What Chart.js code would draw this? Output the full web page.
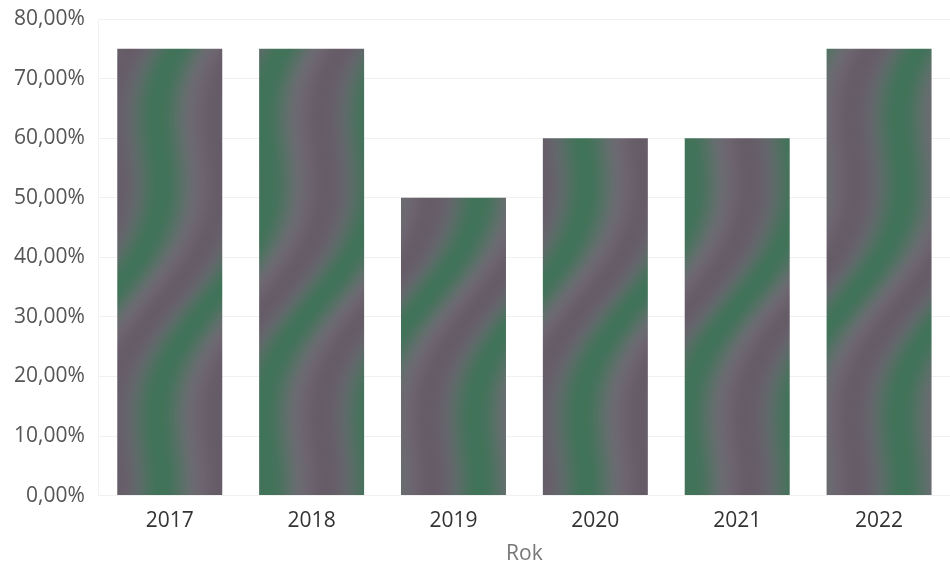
<!DOCTYPE html>
<html><head><meta charset="utf-8">
<script src="https://cdn.jsdelivr.net/npm/chart.js@4.4.0/dist/chart.umd.min.js"></script>
<style>html,body{margin:0;padding:0;background:#fff}#wrap{width:950px;height:567px}</style>
</head><body><div id="wrap"><canvas id="c" width="950" height="567"></canvas></div>
<script>
const categories = ["2017","2018","2019","2020","2021","2022"];
const values = [75, 75, 50, 60, 60, 75];
const axisTitle = "Rok";

function makePattern(){
  const w=106,h=300;
  const cv=document.createElement('canvas');cv.width=w;cv.height=h;
  const cx=cv.getContext('2d');
  const img=cx.createImageData(w,h);
  const gray=[120,110,122], green=[50,116,80], dark=[82,74,86];
  for(let y=0;y<h;y++){
    const off=22*Math.sin(2*Math.PI*y/h)+(y*w/h);
    for(let x=0;x<w;x++){
      const t=((x+off)%w+w)%w/w;
      const g=0.8*Math.pow(0.5+0.5*Math.cos(2*Math.PI*t),1.6);
      const d=0.5*Math.pow(0.5+0.5*Math.cos(2*Math.PI*(t+0.45)),2);
      const i=(y*w+x)*4;
      for(let k=0;k<3;k++){
        let v=gray[k]*(1-g)+green[k]*g;
        v=v*(1-d)+dark[k]*d;
        img.data[i+k]=v;
      }
      img.data[i+3]=255;
    }
  }
  cx.putImageData(img,0,0);
  return document.getElementById('c').getContext('2d').createPattern(cv,'repeat');
}

Chart.defaults.font.family = "'Open Sans', 'Noto Sans', sans-serif";
new Chart(document.getElementById('c'),{
  type:'bar',
  data:{labels:categories,datasets:[{data:values,backgroundColor:makePattern(),barPercentage:0.74,categoryPercentage:1}]},
  options:{
    responsive:false,animation:false,
    layout:{padding:{top:19,right:0,left:0,bottom:0}},
    plugins:{legend:{display:false},tooltip:{enabled:false}},
    scales:{
      y:{min:0,max:80,ticks:{stepSize:10,color:'#555',font:{size:21},padding:14,
          callback:v=>v.toFixed(2).replace('.',',')+'%'},
         afterFit:s=>{s.paddingTop=0;s.paddingBottom=0;},
         grid:{color:'#f0f0f0',drawTicks:false},border:{display:true,color:'#f2f2f2'}},
      x:{ticks:{color:'#333',font:{size:21},padding:5},grid:{display:false},border:{display:false},
         title:{display:true,text:axisTitle,color:'#777',font:{size:21},padding:{top:3,bottom:0}}}
    }
  }
});
</script></body></html>
